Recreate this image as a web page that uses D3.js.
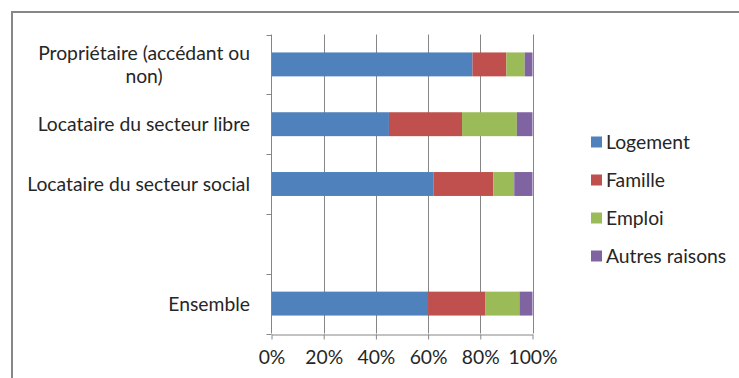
<!DOCTYPE html>
<html>
<head>
<meta charset="utf-8">
<script src="https://cdn.jsdelivr.net/npm/d3@7"></script>
<style>
  html, body { margin: 0; padding: 0; background: #fff; }
  svg { display: block; }
  text { font-family: Lato, "Open Sans", sans-serif; fill: #262626; }
</style>
</head>
<body>
<svg id="chart" width="739" height="378"></svg>
<script>
// Motif du déménagement selon le statut d'occupation (parts en %)
const categories = ["Propriétaire (accédant ou non)", "Locataire du secteur libre", "Locataire du secteur social", "", "Ensemble"];
const categoryLines = [["Propriétaire (accédant ou", "non)"], ["Locataire du secteur libre"], ["Locataire du secteur social"], [], ["Ensemble"]];
const seriesNames = ["Logement", "Famille", "Emploi", "Autres raisons"];
const logement = [77, 45, 62, null, 60];
const famille  = [13, 28, 23, null, 22];
const emploi   = [7, 21, 8, null, 13];
const autres   = [3, 6, 7, null, 5];
const tickValues = [0, 20, 40, 60, 80, 100];
const colors = ["#4F81BD", "#C0504D", "#9BBB59", "#8064A2"];

const svg = d3.select("#chart");
const gridColor = "#868686";

// Frame around the chart area
svg.append("path")
  .attr("d", "M12,378 L12,12 L739,12")
  .attr("fill", "none")
  .attr("stroke", "#878787")
  .attr("stroke-width", 2);

// Pick a font size so the widest label keeps its natural width
const probe = svg.append("text").attr("font-size", 20).text("Locataire du secteur social");
const fs = Math.min(21, 20 * 223 / probe.node().getComputedTextLength());
probe.remove();

const x = d3.scaleLinear().domain([0, 100]).range([271.5, 532.5]);
const y = d3.scaleBand().domain(categories).range([34.5, 333.5]).paddingInner(0.6).paddingOuter(0.3);

// Vertical gridlines
svg.append("g").selectAll("line")
  .data(tickValues.slice(1))
  .join("line")
  .attr("x1", d => Math.round(x(d)) + 0.5).attr("x2", d => Math.round(x(d)) + 0.5)
  .attr("y1", y.range()[0]).attr("y2", y.range()[1])
  .attr("stroke", gridColor).attr("stroke-width", 1);

// Stacked bars
const rows = categories.map((c, i) => ({
  cat: c,
  Logement: logement[i], Famille: famille[i], Emploi: emploi[i], "Autres raisons": autres[i]
})).filter(r => r.Logement !== null);
const stacked = d3.stack().keys(seriesNames)(rows);

svg.append("g").selectAll("g")
  .data(stacked)
  .join("g")
  .attr("fill", (d, i) => colors[i])
  .selectAll("rect")
  .data(d => d)
  .join("rect")
  .attr("x", d => x(d[0]))
  .attr("width", d => x(d[1]) - x(d[0]))
  .attr("y", d => y(d.data.cat))
  .attr("height", y.bandwidth());

// Left axis line with ticks at band boundaries
const yAxis = svg.append("g");
yAxis.append("line")
  .attr("x1", x(0)).attr("x2", x(0))
  .attr("y1", y.range()[0]).attr("y2", y.range()[1])
  .attr("stroke", gridColor);
const bounds = d3.range(categories.length + 1).map(i => y.range()[0] + i * y.step());
yAxis.selectAll("line.tick")
  .data(bounds)
  .join("line")
  .attr("class", "tick")
  .attr("x1", x(0) - 5).attr("x2", x(0))
  .attr("y1", d => Math.round(d) + 0.5).attr("y2", d => Math.round(d) + 0.5)
  .attr("stroke", gridColor);

// Category labels (right-aligned, wrapped lines centred on the first line)
const labelRight = 250;
const lineH = fs * 1.17;
categories.forEach((c, i) => {
  const lines = categoryLines[i];
  if (!lines.length) return;
  const cy = y(c) + y.bandwidth() / 2;
  const first = cy - (lines.length - 1) * lineH / 2;
  let w0 = 0;
  lines.forEach((ln, k) => {
    const t = svg.append("text")
      .attr("font-size", fs)
      .attr("y", first + k * lineH)
      .attr("dy", "0.36em")
      .text(ln);
    if (k === 0) {
      t.attr("x", labelRight).attr("text-anchor", "end");
      w0 = t.node().getComputedTextLength();
    } else {
      t.attr("x", labelRight - w0 / 2).attr("text-anchor", "middle");
    }
  });
});

// Bottom axis
const xAxis = svg.append("g")
  .attr("transform", `translate(0,${Math.round(y.range()[1]) + 0.5})`)
  .call(d3.axisBottom(x).tickValues(tickValues).tickFormat(d => d + "%").tickSize(5).tickPadding(11).tickSizeOuter(0));
xAxis.select(".domain").attr("stroke", gridColor);
xAxis.selectAll(".tick line").attr("stroke", gridColor);
xAxis.selectAll(".tick text").attr("font-size", fs).attr("font-family", null).attr("fill", "#262626");
xAxis.attr("font-family", null);

// Legend
const legend = svg.append("g").attr("transform", "translate(591,0)");
seriesNames.forEach((name, i) => {
  const ly = 142 + i * 38;
  legend.append("rect")
    .attr("x", 0).attr("y", ly - 5.5)
    .attr("width", 11).attr("height", 11)
    .attr("fill", colors[i]);
  legend.append("text")
    .attr("x", 15).attr("y", ly)
    .attr("dy", "0.36em")
    .attr("font-size", fs)
    .text(name);
});
</script>
</body>
</html>
